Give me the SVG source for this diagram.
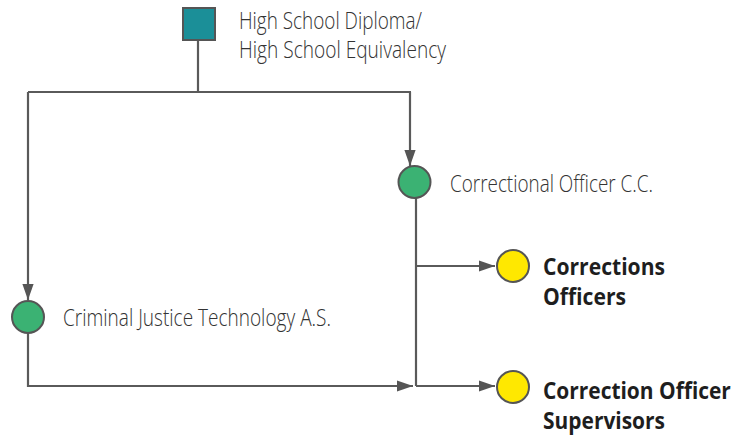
<svg xmlns="http://www.w3.org/2000/svg" width="746" height="440" viewBox="0 0 746 440">
<style>
.ln{fill:none;stroke:#5a5a5a;stroke-width:2.2}
.lt{font-family:"Open Sans","Liberation Sans",sans-serif;font-weight:300;font-size:23px;fill:#333}
.bd{font-family:"Open Sans","Liberation Sans",sans-serif;font-weight:700;font-size:23px;fill:#1e1e1e}
.g{fill:#3bb273;stroke:#555;stroke-width:2}
.y{fill:#ffe800;stroke:#555;stroke-width:2}
</style>
<defs>
<marker id="a" viewBox="0 0 10 10" refX="10" refY="5" markerWidth="16" markerHeight="16" orient="auto" markerUnits="userSpaceOnUse">
<path d="M0,1.5 L10,5 L0,8.5 z" fill="#555"/>
</marker>
</defs>
<g id="connectors">
<path class="ln" d="M198,33 V92 M28,92 H411"/>
<path class="ln" d="M410,92 V166" marker-end="url(#a)"/>
<path class="ln" d="M28,92 V300" marker-end="url(#a)"/>
<path class="ln" d="M28,333 V386 H413" marker-end="url(#a)"/>
<path class="ln" d="M416,198 V386"/>
<path class="ln" d="M416,266 H495" marker-end="url(#a)"/>
<path class="ln" d="M416,386 H495" marker-end="url(#a)"/>
</g>
<g id="hs">
<rect x="183" y="8" width="32" height="32" fill="#1b8f98" stroke="#555" stroke-width="2"/>
<text class="lt" x="239" y="29" textLength="183" lengthAdjust="spacingAndGlyphs">High School Diploma/</text>
<text class="lt" x="239" y="58" textLength="207" lengthAdjust="spacingAndGlyphs">High School Equivalency</text>
</g>
<g id="cocc">
<circle class="g" cx="414.5" cy="182" r="16"/>
<text class="lt" x="450" y="192" textLength="203" lengthAdjust="spacingAndGlyphs">Correctional Officer C.C.</text>
</g>
<g id="cjt">
<circle class="g" cx="28" cy="317" r="16"/>
<text class="lt" x="63" y="326" textLength="268" lengthAdjust="spacingAndGlyphs">Criminal Justice Technology A.S.</text>
</g>
<g id="co">
<circle class="y" cx="513" cy="266" r="16"/>
<text class="bd" x="543" y="275" textLength="122" lengthAdjust="spacingAndGlyphs">Corrections</text>
<text class="bd" x="543" y="305" textLength="83" lengthAdjust="spacingAndGlyphs">Officers</text>
</g>
<g id="cos">
<circle class="y" cx="513" cy="387" r="16"/>
<text class="bd" transform="translate(543 399) scale(0.85 1)" x="0" y="0" textLength="221" lengthAdjust="spacingAndGlyphs">Correction Officer</text>
<text class="bd" x="543" y="429" textLength="122" lengthAdjust="spacingAndGlyphs">Supervisors</text>
</g>
</svg>
